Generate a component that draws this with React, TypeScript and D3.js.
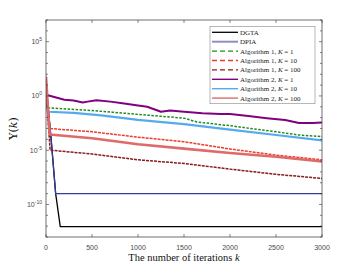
import { useEffect } from 'react';
import * as d3 from 'd3';

// ── Data (k, Υ(k)) ──

const DGTA: [number, number][] = [
  [0, 1e1], [55, 1.3e-4], [105, 1e-9], [155, 9e-13], [3000, 9e-13],
];
const DPIA: [number, number][] = [
  [0, 1e1], [55, 1.3e-4], [105, 1e-9], [3000, 1e-9],
];
const ALG1_K1: [number, number][] = [
  [0, 2e-1], [30, 8e-2], [500, 4.5e-2], [800, 2.8e-2], [1000, 2e-2], [1500, 9e-3],
  [1640, 4e-3], [2000, 1.8e-3], [2500, 5e-4], [2750, 2.5e-4], [3000, 1.8e-4],
];
const ALG1_K10: [number, number][] = [
  [0, 1e1], [40, 1e-3], [500, 5e-4], [1000, 1.6e-4], [1500, 6e-5],
  [2000, 1.3e-5], [2500, 3.5e-6], [3000, 1.3e-6],
];
const ALG1_K100: [number, number][] = [
  [0, 3e0], [45, 1e-5], [500, 4.5e-6], [1000, 1.3e-6], [1500, 6e-7],
  [2000, 1.8e-7], [2500, 6e-8], [3000, 2.5e-8],
];
const ALG2_K1: [number, number][] = [
  [0, 1.3], [50, 1.0], [200, 0.45], [300, 0.38], [400, 0.25], [450, 0.3], [550, 0.4],
  [700, 0.3], [850, 0.2], [1000, 0.13], [1100, 0.1], [1250, 0.035], [1350, 0.045],
  [1500, 0.035], [1700, 0.025], [1900, 0.022], [2000, 0.022], [2200, 0.014],
  [2400, 0.009], [2600, 0.006], [2750, 0.0032], [2900, 0.0032], [3000, 0.0035],
];
const ALG2_K10: [number, number][] = [
  [0, 1e-1], [30, 3.5e-2], [300, 2.8e-2], [600, 1.6e-2], [1000, 6.3e-3],
  [1500, 2.5e-3], [2000, 8e-4], [2500, 2.5e-4], [3000, 8e-5],
];
const ALG2_K100: [number, number][] = [
  [0, 6e1], [40, 2.8e-4], [500, 1.25e-4], [1000, 3.5e-5], [1500, 1.4e-5],
  [2000, 5.6e-6], [2500, 2.5e-6], [3000, 9e-7],
];

const X_TICKS = [0, 500, 1000, 1500, 2000, 2500, 3000];
const Y_LABEL_EXPS = [5, 0, -5, -10];

interface Series {
  name: string;
  data: [number, number][];
  color: string;
  legendColor: string;
  width: number;
  dash?: string;
}

const SERIES: Series[] = [
  { name: 'DGTA', data: DGTA, color: '#000000', legendColor: '#000000', width: 1.3 },
  { name: 'DPIA', data: DPIA, color: '#343d98', legendColor: '#8d8dc8', width: 1.2 },
  { name: 'Algorithm 1, |= 1', data: ALG1_K1, color: '#1f8a1f', legendColor: '#1f8a1f', width: 1.5, dash: '2.5,1.5' },
  { name: 'Algorithm 1, |= 10', data: ALG1_K10, color: '#ee3b2b', legendColor: '#ee3b2b', width: 1.5, dash: '3,1' },
  { name: 'Algorithm 1, |= 100', data: ALG1_K100, color: '#8c1a1a', legendColor: '#8c1a1a', width: 1.5, dash: '3,1' },
  { name: 'Algorithm 2, |= 1', data: ALG2_K1, color: '#800080', legendColor: '#800080', width: 2.0 },
  { name: 'Algorithm 2, |= 10', data: ALG2_K10, color: '#55aaee', legendColor: '#55aaee', width: 2.2 },
  { name: 'Algorithm 2, |= 100', data: ALG2_K100, color: '#dd6b6b', legendColor: '#dd6b6b', width: 2.6 },
];

// plot frame
const W = 356;
const H = 267;
const L = 46;
const R = 322;
const T = 20;
const B = 237;

export default function App() {
  useEffect(() => {
    document.body.style.margin = '0';
  }, []);

  const x = d3.scaleLinear().domain([0, 3000]).range([L, R]);
  const y = d3.scaleLog().domain([1e-13, 1e7]).range([B, T]);

  const line = d3
    .line<[number, number]>()
    .x((d) => x(d[0]))
    .y((d) => y(d[1]));

  const decades = d3.range(-13, 8);

  const lgX = 210;
  const lgY = 26.5;
  const lgW = 105;
  const lgRow = 9.4;

  return (
    <svg width={W} height={H} style={{ display: 'block', background: '#fff' }}>
      <defs>
        <clipPath id="plot">
          <rect x={L} y={T} width={R - L} height={B - T} />
        </clipPath>
      </defs>

      <g clipPath="url(#plot)">
        {SERIES.map((s) => (
          <path
            key={s.name}
            d={line(s.data) || ''}
            fill="none"
            stroke={s.color}
            strokeWidth={s.width}
            strokeDasharray={s.dash}
            strokeLinejoin="round"
          />
        ))}
      </g>

      {/* axes box */}
      <rect x={L} y={T} width={R - L} height={B - T} fill="none" stroke="#333" strokeWidth={0.7} />

      {/* x ticks */}
      {X_TICKS.map((t) => (
        <g key={'x' + t}>
          <line x1={x(t)} x2={x(t)} y1={B} y2={B - 3} stroke="#333" strokeWidth={0.6} />
          <line x1={x(t)} x2={x(t)} y1={T} y2={T + 3} stroke="#333" strokeWidth={0.6} />
          <text
            x={x(t)}
            y={250}
            textAnchor="middle"
            fontSize={7}
            fontFamily="'Liberation Sans', Arial, sans-serif"
            fill="#4a4a4a"
          >
            {t}
          </text>
        </g>
      ))}

      {/* y ticks */}
      {decades.map((e) => (
        <g key={'y' + e}>
          <line x1={L} x2={L + (e % 5 === 0 ? 3 : 2)} y1={y(Math.pow(10, e))} y2={y(Math.pow(10, e))} stroke="#333" strokeWidth={0.6} />
          <line x1={R} x2={R - (e % 5 === 0 ? 3 : 2)} y1={y(Math.pow(10, e))} y2={y(Math.pow(10, e))} stroke="#333" strokeWidth={0.6} />
        </g>
      ))}
      {Y_LABEL_EXPS.map((e) => (
        <text
          key={'yl' + e}
          x={42}
          y={y(Math.pow(10, e)) + 2.5}
          textAnchor="end"
          fontSize={7}
          fontFamily="'Liberation Sans', Arial, sans-serif"
          fill="#4a4a4a"
        >
          10
          <tspan fontSize={5} dy={-3}>
            {e}
          </tspan>
        </text>
      ))}

      {/* axis labels */}
      <text
        x={(L + R) / 2}
        y={261}
        textAnchor="middle"
        fontSize={10.5}
        fontFamily="'Liberation Serif', 'DejaVu Serif', serif"
        fill="#111"
      >
        The number of iterations <tspan fontStyle="italic">k</tspan>
      </text>
      <text
        transform={`translate(17,${(T + B) / 2}) rotate(-90)`}
        textAnchor="middle"
        fontSize={11}
        fontFamily="'DejaVu Serif', 'Liberation Serif', serif"
        fill="#111"
      >
        Υ(<tspan fontStyle="italic">k</tspan>)
      </text>

      {/* legend */}
      <rect x={lgX} y={lgY} width={lgW} height={lgRow * SERIES.length + 2} fill="#fff" stroke="#888" strokeWidth={0.6} />
      {SERIES.map((s, i) => {
        const cy = lgY + 5.8 + i * lgRow;
        const parts = s.name.split('|');
        return (
          <g key={'lg' + s.name}>
            <line
              x1={lgX + 2}
              x2={lgX + 28}
              y1={cy}
              y2={cy}
              stroke={s.legendColor}
              strokeWidth={s.name === 'DPIA' ? 2 : Math.min(s.width, 1.4)}
              strokeDasharray={s.dash ? '5,3' : undefined}
            />
            <text
              x={lgX + 30}
              y={cy + 2.4}
              fontSize={7}
              fontFamily="'Liberation Serif', 'DejaVu Serif', serif"
              fill="#222"
            >
              {parts[0]}
              {parts.length > 1 && <tspan fontStyle="italic">K</tspan>}
              {parts.length > 1 && ' ' + parts[1]}
            </text>
          </g>
        );
      })}
    </svg>
  );
}
